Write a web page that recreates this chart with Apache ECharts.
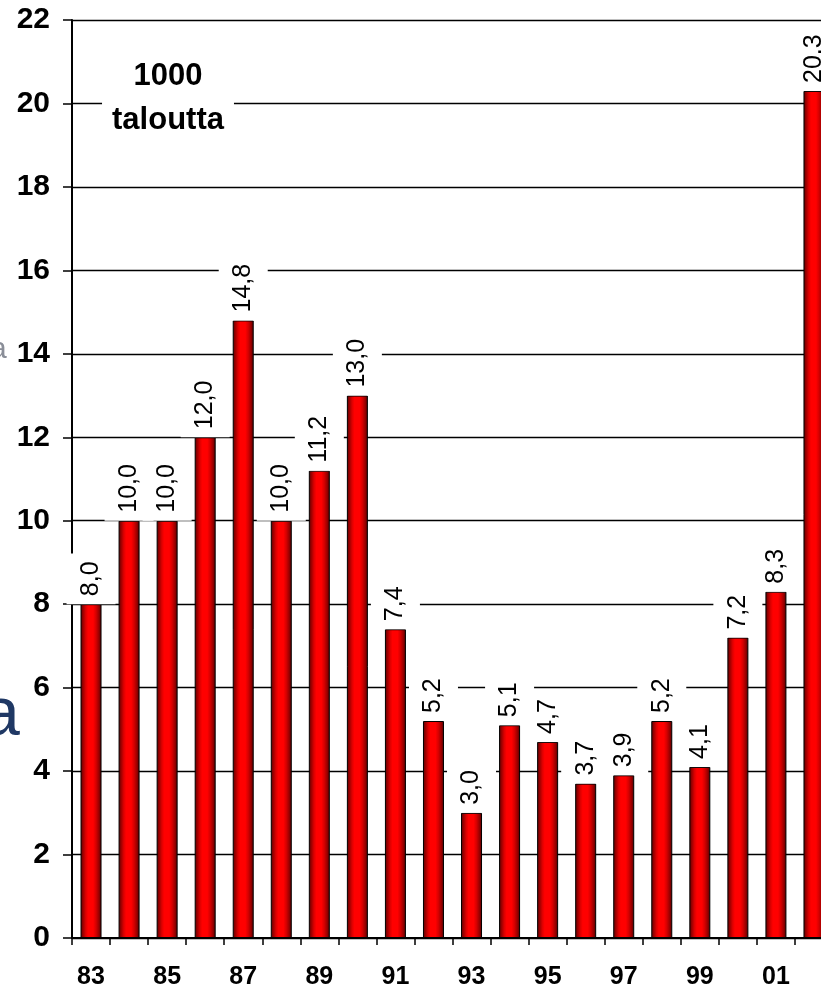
<!DOCTYPE html>
<html>
<head>
<meta charset="utf-8">
<script src="https://cdn.jsdelivr.net/npm/echarts@6/dist/echarts.min.js"></script>
<style>
  html, body { margin: 0; padding: 0; background: #ffffff; }
  #chart { width: 821px; height: 984px; }
</style>
</head>
<body>
<div id="chart"></div>
<script>
// Vuodet (kaksi viimeistä numeroa)
const years = ['83','84','85','86','87','88','89','90','91','92','93','94','95','96','97','98','99','00','01','02'];
// Määrä, 1000 taloutta
const households = [8.0, 10.0, 10.0, 12.0, 14.8, 10.0, 11.2, 13.0, 7.4, 5.2, 3.0, 5.1, 4.7, 3.7, 3.9, 5.2, 4.1, 7.2, 8.3, 20.3];
// Y-akselin asteikko
const yMin = 0;
const yMax = 22;
const yStep = 2;
const unitText = '1000\ntaloutta';

const FONT = '"Liberation Sans", Arial, sans-serif';

const barFill = new echarts.graphic.LinearGradient(0, 0, 1, 0, [
  { offset: 0.00, color: '#5a0000' },
  { offset: 0.12, color: '#9a0000' },
  { offset: 0.25, color: '#dd0000' },
  { offset: 0.36, color: '#ff0000' },
  { offset: 0.60, color: '#ff0000' },
  { offset: 0.74, color: '#d40000' },
  { offset: 0.88, color: '#960000' },
  { offset: 1.00, color: '#4a0000' }
]);

const chart = echarts.init(document.getElementById('chart'), null, { renderer: 'canvas' });

chart.setOption({
  animation: false,
  backgroundColor: '#ffffff',
  textStyle: { fontFamily: FONT },
  grid: { left: 72, right: -12, top: 20, bottom: 46, containLabel: false, outerBoundsMode: 'none' },
  xAxis: {
    type: 'category',
    data: years,
    boundaryGap: true,
    axisLine: { show: true, lineStyle: { color: '#000', width: 2 } },
    axisTick: { show: true, interval: 0, length: 7, lineStyle: { color: '#000', width: 1.5 } },
    axisLabel: {
      interval: 1,
      margin: 27,
      color: '#000',
      fontFamily: FONT,
      fontWeight: 'bold',
      fontSize: 25
    },
    splitLine: { show: false }
  },
  yAxis: {
    type: 'value',
    min: yMin,
    max: yMax,
    interval: yStep,
    axisLine: { show: true, lineStyle: { color: '#000', width: 2 } },
    axisTick: { show: true, length: 9, lineStyle: { color: '#000', width: 1.5 } },
    axisLabel: {
      margin: 22,
      color: '#000',
      fontFamily: FONT,
      fontWeight: 'bold',
      fontSize: 30
    },
    splitLine: { show: true, lineStyle: { color: '#000', width: 1.3 } }
  },
  series: [{
    type: 'bar',
    data: households,
    barWidth: 21,
    itemStyle: { color: barFill, borderColor: '#000', borderWidth: 1 },
    label: {
      show: true,
      position: 'top',
      distance: 0,
      rotate: 90,
      align: 'left',
      verticalAlign: 'middle',
      color: '#000',
      fontFamily: FONT,
      fontSize: 25,
      backgroundColor: '#ffffff',
      padding: [12, 8, 12, 8],
      formatter: p => p.value.toFixed(1).replace('.', ',')
    }
  }],
  graphic: [
    {
      type: 'text',
      z: 100,
      x: 168,
      y: 50,
      style: {
        text: unitText,
        font: 'bold 31px ' + FONT,
        fill: '#000',
        align: 'center',
        verticalAlign: 'top',
        lineHeight: 44,
        backgroundColor: '#ffffff',
        padding: [4, 10]
      }
    },
    {
      type: 'text',
      z: 100,
      x: -10,
      y: 350,
      style: {
        text: 'a',
        font: '30px ' + FONT,
        fill: '#8a8e98',
        align: 'left',
        verticalAlign: 'middle'
      }
    },
    {
      type: 'text',
      z: 100,
      x: -18,
      y: 716,
      style: {
        text: 'a',
        font: '68px ' + FONT,
        fill: '#1f3864',
        align: 'left',
        verticalAlign: 'middle'
      }
    }
  ]
});
</script>
</body>
</html>
